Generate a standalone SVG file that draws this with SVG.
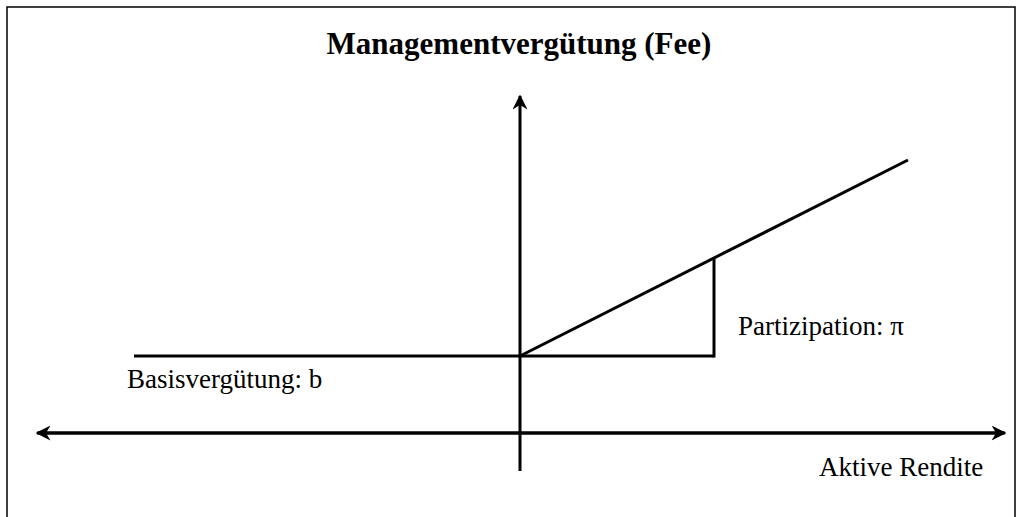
<svg xmlns="http://www.w3.org/2000/svg" width="1023" height="517" viewBox="0 0 1023 517">
<style>
.ln{stroke:#000;stroke-width:3;fill:none}
.t{font-family:"Liberation Serif","Times New Roman",serif;font-size:27px;fill:#000}
.ttl{font-family:"Liberation Serif","Times New Roman",serif;font-size:31px;font-weight:bold;fill:#000}
</style>
<defs>
<marker id="ah" viewBox="0 0 10 10" refX="9" refY="5" markerWidth="5" markerHeight="5" orient="auto" markerUnits="strokeWidth">
<path d="M0,0 L10,5 L0,10 L3,5 Z" fill="#000"/>
</marker>
</defs>
<rect width="1023" height="517" fill="#fff"/>
<path d="M7,530 V7 H1015 V530" stroke="#000" stroke-width="1.5" fill="none"/>
<g id="title"><text class="ttl" x="519" y="54" text-anchor="middle">Managementvergütung (Fee)</text></g>
<g id="connectors">
<line class="ln" x1="38" y1="433" x2="1005" y2="433" marker-end="url(#ah)"/>
<line class="ln" x1="1004" y1="433" x2="37" y2="433" marker-end="url(#ah)"/>
<line class="ln" x1="520" y1="471" x2="520" y2="96" marker-end="url(#ah)"/>
<line class="ln" x1="134" y1="356" x2="714" y2="356"/>
<line class="ln" x1="714" y1="357.5" x2="714" y2="257"/>
<line class="ln" x1="520" y1="356" x2="908" y2="160"/>
</g>
<g id="lbl-basis"><text class="t" x="127" y="388">Basisvergütung: b</text></g>
<g id="lbl-part"><text class="t" x="738" y="335">Partizipation: π</text></g>
<g id="lbl-rendite"><text class="t" x="819" y="476">Aktive Rendite</text></g>
</svg>
